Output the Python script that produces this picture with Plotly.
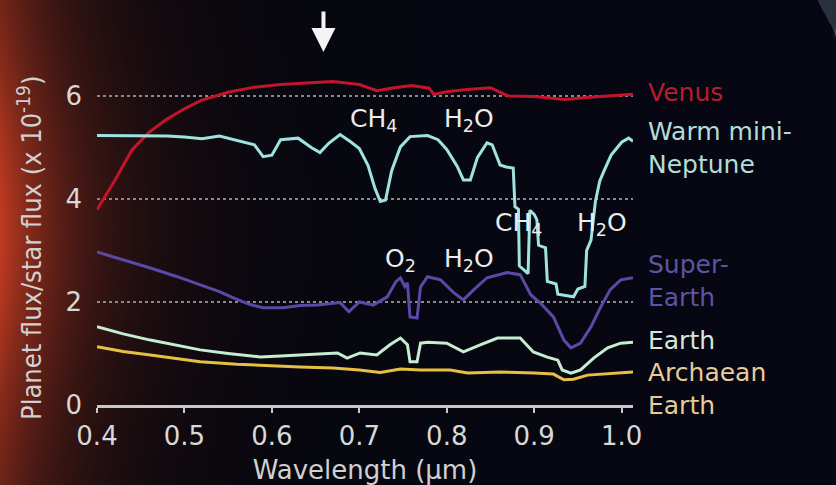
import base64, struct, zlib
import numpy as np
import plotly.graph_objects as go

# ---------------- data ----------------
venus_x = [0.400, 0.420, 0.440, 0.460, 0.480, 0.500, 0.520, 0.550, 0.580, 0.610, 0.640, 0.670,
           0.700, 0.720, 0.740, 0.760, 0.780, 0.785, 0.800, 0.820, 0.850, 0.870, 0.900, 0.935,
           0.960, 0.990, 1.013]
venus_y = [3.79, 4.35, 4.95, 5.30, 5.55, 5.75, 5.92, 6.07, 6.17, 6.22, 6.25, 6.28,
           6.22, 6.10, 6.16, 6.20, 6.15, 6.03, 6.08, 6.12, 6.16, 6.00, 5.99, 5.93,
           5.97, 6.00, 6.03]

neptune_x = [0.400, 0.450, 0.480, 0.500, 0.520, 0.540, 0.560, 0.580, 0.590, 0.600, 0.610, 0.630,
             0.645, 0.655, 0.665, 0.678, 0.690, 0.700, 0.710, 0.718, 0.724, 0.730, 0.737, 0.747,
             0.758, 0.778, 0.790, 0.800, 0.812, 0.819, 0.827, 0.835, 0.846, 0.852, 0.861, 0.868,
             0.876, 0.878, 0.882, 0.883, 0.893, 0.895, 0.900, 0.903, 0.905, 0.913, 0.915, 0.925,
             0.927, 0.945, 0.950, 0.958, 0.960, 0.965, 0.970, 0.975, 0.980, 0.988, 1.000, 1.008,
             1.013]
neptune_y = [5.23, 5.23, 5.22, 5.20, 5.17, 5.22, 5.14, 5.05, 4.82, 4.85, 5.15, 5.18,
             5.00, 4.90, 5.08, 5.25, 5.11, 4.98, 4.65, 4.20, 3.95, 3.98, 4.55, 5.01,
             5.21, 5.23, 5.15, 4.96, 4.63, 4.37, 4.37, 4.80, 5.09, 5.05, 4.66, 4.62,
             4.60, 3.85, 3.80, 2.70, 2.55, 3.78, 3.70, 3.60, 3.10, 3.05, 2.40, 2.35,
             2.15, 2.10, 2.25, 2.30, 3.00, 3.20, 3.95, 4.35, 4.55, 4.85, 5.10, 5.18,
             5.12]

super_x = [0.400, 0.430, 0.461, 0.490, 0.518, 0.540, 0.556, 0.575, 0.590, 0.613, 0.632, 0.652,
           0.678, 0.688, 0.700, 0.708, 0.716, 0.732, 0.742, 0.747, 0.752, 0.755, 0.758, 0.766,
           0.770, 0.778, 0.793, 0.808, 0.819, 0.831, 0.846, 0.869, 0.884, 0.896, 0.907, 0.922,
           0.934, 0.942, 0.953, 0.965, 0.976, 0.987, 0.999, 1.013]
super_y = [2.97, 2.82, 2.66, 2.50, 2.33, 2.20, 2.08, 1.95, 1.89, 1.89, 1.93, 1.94,
           1.99, 1.81, 2.00, 1.97, 1.94, 2.10, 2.40, 2.47, 2.30, 2.37, 1.71, 1.69,
           2.29, 2.49, 2.43, 2.18, 2.04, 2.24, 2.47, 2.57, 2.53, 2.14, 1.98, 1.71,
           1.26, 1.11, 1.20, 1.52, 1.90, 2.24, 2.43, 2.47]

earth_x = [0.400, 0.430, 0.461, 0.490, 0.518, 0.550, 0.587, 0.610, 0.632, 0.675, 0.686, 0.701,
           0.720, 0.735, 0.747, 0.755, 0.758, 0.766, 0.770, 0.778, 0.800, 0.819, 0.839, 0.858,
           0.884, 0.899, 0.915, 0.927, 0.932, 0.942, 0.953, 0.968, 0.984, 0.999, 1.013]
earth_y = [1.52, 1.38, 1.26, 1.16, 1.07, 1.00, 0.93, 0.95, 0.97, 1.01, 0.91, 1.01,
           0.97, 1.17, 1.30, 1.17, 0.84, 0.84, 1.20, 1.22, 1.20, 1.03, 1.17, 1.30,
           1.30, 1.03, 0.93, 0.87, 0.68, 0.62, 0.68, 0.91, 1.11, 1.20, 1.22]

archaean_x = [0.400, 0.430, 0.461, 0.518, 0.560, 0.595, 0.632, 0.670, 0.700, 0.724, 0.747,
              0.770, 0.804, 0.824, 0.861, 0.900, 0.922, 0.934, 0.945, 0.961, 0.991, 1.013]
archaean_y = [1.13, 1.04, 0.97, 0.84, 0.79, 0.76, 0.74, 0.72, 0.68, 0.63, 0.70,
              0.68, 0.68, 0.62, 0.64, 0.62, 0.60, 0.49, 0.50, 0.58, 0.62, 0.64]

x_ticks = [0.4, 0.5, 0.6, 0.7, 0.8, 0.9, 1.0]
x_tick_labels = ["0.4", "0.5", "0.6", "0.7", "0.8", "0.9", "1.0"]
y_ticks = [0, 2, 4, 6]
y_tick_labels = ["0", "2", "4", "6"]

series_names = ["Venus", "Warm mini-<br>Neptune", "Super-<br>Earth", "Earth", "Archaean<br>Earth"]
label_y = [6.06, 4.99, 2.40, 1.26, 0.31]

molecule_text = ["CH<sub>4</sub>", "H<sub>2</sub>O", "CH<sub>4</sub>", "H<sub>2</sub>O",
                 "O<sub>2</sub>", "H<sub>2</sub>O"]
molecule_x = [0.716, 0.825, 0.882, 0.978, 0.747, 0.826]
molecule_y = [5.54, 5.54, 3.52, 3.52, 2.82, 2.82]

arrow_x = 0.659
arrow_y = 6.85

X_RANGE = [0.4, 1.013]
Y_RANGE = [0, 6.6]
LABEL_X = 1.028


def px(v):
    return (v - X_RANGE[0]) / (X_RANGE[1] - X_RANGE[0])


def py(v):
    return (v - Y_RANGE[0]) / (Y_RANGE[1] - Y_RANGE[0])


# ---------------- background image (decoration) ----------------
W, H = 836, 485
xx = np.arange(W)[None, :].astype(float)
yy = np.arange(H)[:, None].astype(float)
glow = np.exp(-xx / 75.0) * (0.5 + 0.5 * np.exp(-((yy - 230) / 180.0) ** 2))
r = 6 + 185 * glow
g = 7 + 52 * glow
b = 12 + 22 * glow + 8 * (xx / W)
wedge = (xx > 817 + yy * 19 / 35.0) & (yy < 75)
r = np.where(wedge, 40, r)
g = np.where(wedge, 50, g)
b = np.where(wedge, 60, b)
spot = np.exp(-(((xx - 840) ** 2 + (yy - 33) ** 2) / 18.0))
r = r + 170 * spot
g = g + 170 * spot
b = b + 170 * spot
img = np.clip(np.stack([r, g, b], axis=-1), 0, 255).astype(np.uint8)


def to_png(arr):
    h, w, _ = arr.shape
    raw = b"".join(b"\x00" + arr[i].tobytes() for i in range(h))

    def chunk(t, d):
        return struct.pack(">I", len(d)) + t + d + struct.pack(">I", zlib.crc32(t + d) & 0xFFFFFFFF)

    return (b"\x89PNG\r\n\x1a\n" + chunk(b"IHDR", struct.pack(">IIBBBBB", w, h, 8, 2, 0, 0, 0))
            + chunk(b"IDAT", zlib.compress(raw, 9)) + chunk(b"IEND", b""))


bg_uri = "data:image/png;base64," + base64.b64encode(to_png(img)).decode()

# ---------------- figure ----------------
ML, MR, MT, MB = 97, 203, 65, 80
PW, PH = W - ML - MR, H - MT - MB

colors = ["#c4142c", "#9fe3e0", "#5a4aa8", "#c6ecd2", "#e6c044"]
label_colors = ["#b81c2e", "#b4dcd8", "#5e54a2", "#d8e6dc", "#e6cc96"]
xs = [venus_x, neptune_x, super_x, earth_x, archaean_x]
ys = [venus_y, neptune_y, super_y, earth_y, archaean_y]

fig = go.Figure()
for xv, yv, c, n in zip(xs, ys, colors, series_names):
    fig.add_trace(go.Scatter(x=xv, y=yv, mode="lines", line=dict(color=c, width=3),
                             name=n.replace("<br>", " "), hoverinfo="skip", showlegend=False))

FONT = "DejaVu Sans"
annotations = []
for n, ly, lc in zip(series_names, label_y, label_colors):
    annotations.append(dict(x=px(LABEL_X), y=py(ly), xref="paper", yref="paper", text=n,
                            showarrow=False, xanchor="left", yanchor="middle", align="left",
                            font=dict(family=FONT, size=25, color=lc)))
for t, mx, my in zip(molecule_text, molecule_x, molecule_y):
    annotations.append(dict(x=mx, y=my, xref="x", yref="y", text=t, showarrow=False,
                            xanchor="center", yanchor="middle",
                            font=dict(family=FONT, size=25, color="#ececec")))
annotations.append(dict(x=px(arrow_x), y=py(arrow_y), xref="paper", yref="paper", text="",
                        showarrow=True, ax=0, ay=-42, arrowhead=2, arrowsize=1.2, arrowwidth=4,
                        arrowcolor="#f4f4f4", standoff=0))
# y-axis title (placed as rotated text so it sits where the reference has it)
annotations.append(dict(x=(29 - ML) / PW, y=(405 - 248) / PH, xref="paper", yref="paper",
                        text="Planet flux/star flux (x 10<sup>-19</sup>)", textangle=-90,
                        showarrow=False, xanchor="center", yanchor="middle",
                        font=dict(family="DejaVu Sans Condensed", size=27, color="#d0d0d0")))

fig.update_layout(
    width=W, height=H, autosize=False,
    margin=dict(l=ML, r=MR, t=MT, b=MB, pad=0),
    paper_bgcolor="#06070c", plot_bgcolor="rgba(0,0,0,0)",
    images=[dict(source=bg_uri, xref="paper", yref="paper", x=-ML / PW, y=(PH + MT) / PH,
                 sizex=W / PW, sizey=H / PH, xanchor="left", yanchor="top",
                 sizing="stretch", layer="below")],
    annotations=annotations,
    xaxis=dict(range=X_RANGE, tickvals=x_ticks, ticktext=x_tick_labels, automargin=False,
               showgrid=False, zeroline=False, showline=True, linecolor="#c8c8c8", linewidth=3,
               ticks="outside", ticklen=5, tickwidth=2, tickcolor="#c8c8c8",
               ticklabelstandoff=1,
               tickfont=dict(family=FONT, size=26, color="#d8d8d8"),
               title=dict(text="Wavelength (μm)", standoff=12,
                          font=dict(family=FONT, size=26, color="#d0d0d0"))),
    yaxis=dict(range=Y_RANGE, tickvals=y_ticks, ticktext=y_tick_labels, automargin=False,
               showgrid=True, gridcolor="#8a8a8a", griddash="dot", gridwidth=2,
               zeroline=False, showline=False, ticks="", ticklabelstandoff=14,
               tickfont=dict(family=FONT, size=26, color="#d8d8d8")),
)

fig.write_html("out.html")
